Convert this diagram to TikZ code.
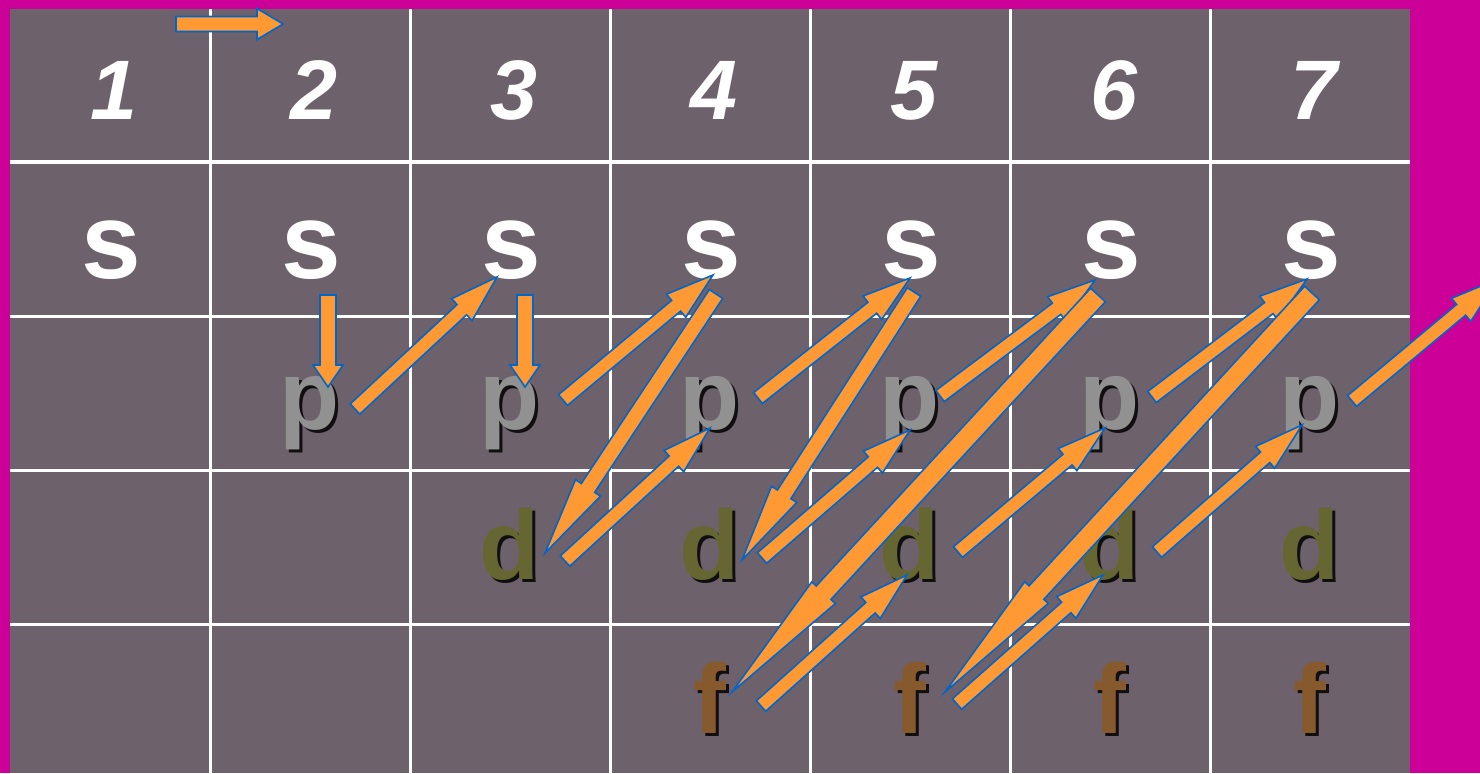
\documentclass[tikz,border=0pt]{standalone}
\usepackage{fontspec}
\setmainfont{Liberation Sans}
\usetikzlibrary{calc}

\definecolor{slidemagenta}{RGB}{204,0,153}
\definecolor{cellgray}{RGB}{109,97,107}
\definecolor{arrowfill}{RGB}{255,153,51}
\definecolor{arrowline}{RGB}{0,102,204}
\definecolor{pgray}{RGB}{145,145,145}
\definecolor{dolive}{RGB}{102,102,51}
\definecolor{fbrown}{RGB}{135,90,45}

\tikzstyle{grid line}=[draw=white, line width=0.03cm]
\tikzstyle{shell num}=[white, anchor=base, inner sep=0pt, font=\fontsize{24}{24}\selectfont\bfseries\itshape]
\tikzstyle{orb s}=[white, anchor=base, inner sep=0pt, font=\fontsize{30.5}{30.5}\selectfont\bfseries]
\tikzstyle{orb}=[anchor=base, inner sep=0pt, font=\fontsize{28}{28}\selectfont\bfseries]
\tikzstyle{orb shadow}=[orb, text=black, text opacity=0.85]
\tikzstyle{block arrow}=[fill=arrowfill, draw=arrowline, line width=0.45pt]

% tail, tip, half shaft width, half head width, head length
\newcommand{\blockarrow}[5]{%
  \coordinate (ba-base) at ($(#2)!#5!(#1)$);
  \filldraw[block arrow] ($(#1)!#3!90:(#2)$) -- ($(ba-base)!#3!90:(#2)$) -- ($(ba-base)!#4!90:(#2)$) -- (#2)
    -- ($(ba-base)!#4!-90:(#2)$) -- ($(ba-base)!#3!-90:(#2)$) -- ($(#1)!#3!-90:(#2)$) -- cycle;
}

\begin{document}
\begin{tikzpicture}[x=0.01cm, y=-0.01cm]
	\clip (0,0) rectangle (1480,773);
	% slide and table
	\fill[slidemagenta] (0,0) rectangle (1480,773);
	\fill[cellgray] (10,9) rectangle (1410,773);
	\foreach \x in {210,410,...,1210}{ \draw[grid line] (\x,9) -- (\x,773); }
	\foreach \y in {162,316,470,624}{ \draw[grid line] (10,\y) -- (1410,\y); }

	% shell numbers and sublevels
	\foreach \n in {1,...,7}{
		\node[shell num] (n\n) at (200*\n-86,120) {\n};
		\node[orb s] (s\n) at (200*\n-89,278) {s};
	}
	\foreach \n in {2,...,7}{
		\node[orb shadow] (p\n-sh) at (200*\n-87,432) {p};
		\node[orb, text=pgray] (p\n) at (200*\n-90,429) {p};
	}
	\foreach \n in {3,...,7}{
		\node[orb shadow] (d\n-sh) at (200*\n-87,582) {d};
		\node[orb, text=dolive] (d\n) at (200*\n-90,579) {d};
	}
	\foreach \n in {4,...,7}{
		\node[orb shadow] (f\n-sh) at (200*\n-87,736) {f};
		\node[orb, text=fbrown] (f\n) at (200*\n-90,733) {f};
	}

	% filling order
	\coordinate (go-t) at (176,24); \coordinate (go-h) at (283,24);
	\blockarrow{go-t}{go-h}{0.075cm}{0.155cm}{0.26cm}
	\foreach \i/\x in {2/328, 3/525}{
		\coordinate (sp\i-t) at (\x,295); \coordinate (sp\i-h) at (\x,387);
		\blockarrow{sp\i-t}{sp\i-h}{0.08cm}{0.15cm}{0.22cm}
	}
	\foreach \i/\tx/\ty/\hx/\hy in {2/355/409/497/277, 3/563/400/713/275, 4/758/398/910/278, 5/940/396/1095/280, 6/1152/397/1307/279, 7/1352/401/1498/279}{
		\coordinate (ps\i-t) at (\tx,\ty); \coordinate (ps\i-h) at (\hx,\hy);
		\blockarrow{ps\i-t}{ps\i-h}{0.07cm}{0.15cm}{0.48cm}
	}
	\foreach \i/\tx/\ty/\hx/\hy in {4/716/294/545/553, 5/914/292/742/560}{
		\coordinate (sd\i-t) at (\tx,\ty); \coordinate (sd\i-h) at (\hx,\hy);
		\blockarrow{sd\i-t}{sd\i-h}{0.08cm}{0.15cm}{0.78cm}
	}
	\foreach \i/\tx/\ty/\hx/\hy in {6/1098/295/732/692, 7/1312/293/945/692}{
		\coordinate (sf\i-t) at (\tx,\ty); \coordinate (sf\i-h) at (\hx,\hy);
		\blockarrow{sf\i-t}{sf\i-h}{0.1cm}{0.16cm}{1.35cm}
	}
	\foreach \i/\tx/\ty/\hx/\hy in {3/565/561/710/428, 4/762/558/910/430, 5/958/552/1105/428, 6/1157/552/1302/425}{
		\coordinate (dp\i-t) at (\tx,\ty); \coordinate (dp\i-h) at (\hx,\hy);
		\blockarrow{dp\i-t}{dp\i-h}{0.07cm}{0.145cm}{0.49cm}
	}
	\foreach \i/\tx/\ty/\hx/\hy in {4/761/706/907/575, 5/957/704/1103/575}{
		\coordinate (fd\i-t) at (\tx,\ty); \coordinate (fd\i-h) at (\hx,\hy);
		\blockarrow{fd\i-t}{fd\i-h}{0.07cm}{0.145cm}{0.49cm}
	}
\end{tikzpicture}
\end{document}
